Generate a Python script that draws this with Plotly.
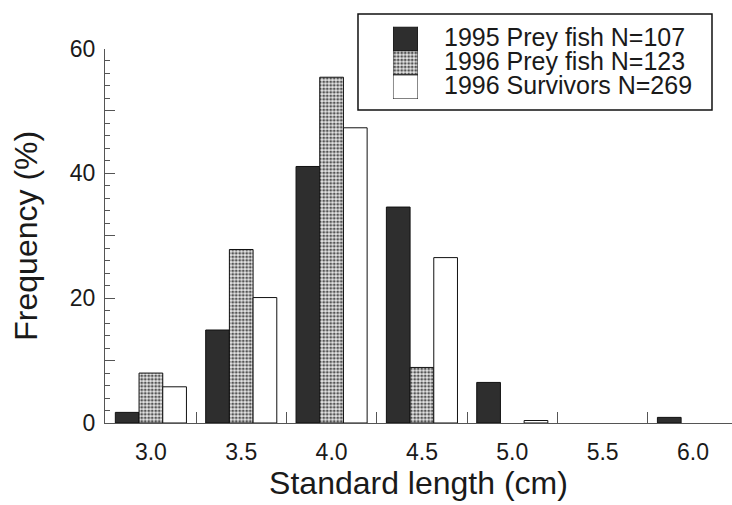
import plotly.graph_objects as go

size_labels = ["3.0", "3.5", "4.0", "4.5", "5.0", "5.5", "6.0"]
prey_1995 = [1.7, 14.9, 41.1, 34.6, 6.5, None, 0.9]
prey_1996 = [8.0, 27.8, 55.4, 8.9, None, None, None]
survivors_1996 = [5.8, 20.1, 47.3, 26.5, 0.4, None, None]
series_names = ["1995 Prey fish N=107", "1996 Prey fish N=123", "1996 Survivors N=269"]

pos = list(range(len(size_labels)))
sep_pos = [p + 0.5 for p in pos[:-1]]

FONT = "Liberation Sans, Arial, Helvetica, sans-serif"
INK = "#1a1a1a"
AX = "#555555"

styles = [
    dict(color="#2e2e2e", line=dict(color="#111111", width=1)),
    dict(color="white", line=dict(color="#111111", width=1),
         pattern=dict(shape=".", size=3.5, solidity=0.5, fgcolor="#555555", bgcolor="#e6e6e6")),
    dict(color="white", line=dict(color="#111111", width=1)),
]
series_values = [prey_1995, prey_1996, survivors_1996]

fig = go.Figure()
for name, vals, st in zip(series_names, series_values, styles):
    fig.add_trace(go.Bar(x=pos, y=vals, name=name, marker=st, showlegend=False))

# custom legend: swatches as bars on their own small axes
legend_rows = list(range(len(series_names)))[::-1]
for name, row, st in zip(series_names, legend_rows, styles):
    fig.add_trace(go.Bar(x=[1], y=[row], orientation="h", width=1, offsetgroup="leg",
                         marker=st, xaxis="x2", yaxis="y2", showlegend=False,
                         hoverinfo="skip"))
    fig.add_annotation(x=1, y=row, xref="x2", yref="y2", text=name, showarrow=False,
                       xanchor="left", yanchor="middle", xshift=25, yshift=2,
                       borderpad=0, font=dict(size=25, family=FONT, color=INK))

fig.add_shape(type="rect", xref="paper", yref="paper", x0=0.4035, x1=0.9681,
              y0=0.740, y1=0.967, line=dict(color="#111111", width=1.5),
              fillcolor="rgba(0,0,0,0)", layer="below")

fig.update_layout(
    template="none",
    width=732, height=505,
    margin=dict(l=105, r=0, t=0, b=82, autoexpand=False),
    paper_bgcolor="white", plot_bgcolor="rgba(0,0,0,0)",
    barmode="group", bargap=0.213, bargroupgap=0,
    font=dict(family=FONT, color=INK, size=23),
    showlegend=False,
    xaxis=dict(
        automargin=False,
        range=[-0.508, 6.432], showline=True, linecolor=AX, linewidth=1,
        tickmode="array", tickvals=pos, ticktext=size_labels,
        ticks="", showgrid=False, zeroline=False, ticklabelstandoff=8,
        tickfont=dict(size=23, family=FONT, color=INK),
        minor=dict(tickmode="array", tickvals=sep_pos, ticks="inside",
                   ticklen=11, tickcolor=AX, tickwidth=1, showgrid=False),
        title=dict(text="Standard length (cm)", font=dict(size=32, family=FONT, color=INK), standoff=4),
    ),
    yaxis=dict(
        automargin=False,
        domain=[0, 0.8853],
        range=[0, 60], showline=True, linecolor=AX, linewidth=1,
        tickmode="array", tickvals=[0, 10, 20, 30, 40, 50, 60],
        ticktext=["0", "", "20", "", "40", "", "60"],
        ticks="inside", ticklen=10, tickcolor=AX, tickwidth=1,
        showgrid=False, zeroline=False, ticklabelstandoff=4,
        tickfont=dict(size=23, family=FONT, color=INK),
        minor=dict(dtick=2, ticks="inside", ticklen=5, tickcolor=AX, showgrid=False),
        title=dict(text="Frequency (%)", font=dict(size=32, family=FONT, color=INK), standoff=22),
    ),
    xaxis2=dict(domain=[0.4593, 0.4992], range=[0, 1], anchor="y2", visible=False),
    yaxis2=dict(domain=[0.766, 0.937], range=[-0.5, 2.5], anchor="x2", visible=False),
)

fig.write_html("out.html")
